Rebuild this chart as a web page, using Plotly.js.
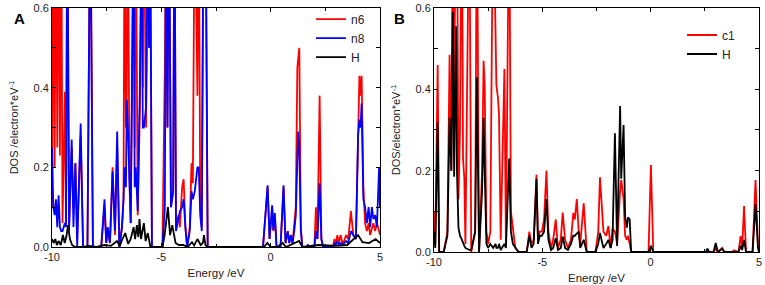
<!DOCTYPE html>
<html>
<head>
<meta charset="utf-8">
<script src="https://cdn.plot.ly/plotly-3.0.1.min.js"></script>
<style>html,body{margin:0;padding:0;background:#fff}#chart{width:765px;height:285px}</style>
</head>
<body>
<div id="chart"></div>
<script>
// ---------- Panel A data (energy in eV, DOS in electron^-1 eV^-1) ----------
const energyA = [
-10.00,-9.94,-9.88,-9.82,-9.76,-9.70,-9.64,-9.58,-9.52,-9.41,
-9.36,-9.30,-9.22,-9.10,-9.02,-8.93,-8.85,-8.69,-8.58,-8.38,
-8.25,-8.13,-7.75,-7.60,-7.52,-7.45,-7.35,-7.23,-7.12,-7.02,
-6.92,-6.80,-6.73,-6.68,-6.62,-6.58,-6.53,-6.46,-6.40,-6.26,
-6.22,-6.17,-6.08,-5.98,-5.89,-5.85,-5.80,-5.70,-5.60,-5.56,
-5.52,-5.43,-4.95,-4.84,-4.78,-4.72,-4.65,-4.56,-4.46,-4.40,
-4.33,-4.22,-4.15,-4.05,-3.98,-3.90,-3.82,-3.70,-3.62,-3.56,
-3.47,-3.35,-3.29,-3.22,-3.15,-3.07,-2.98,-2.88,-0.35,-0.14,
-0.05,0.07,0.12,0.19,0.27,0.45,0.59,0.68,0.78,0.85,
0.92,1.00,1.08,1.15,1.22,1.26,1.31,1.38,1.45,1.65,
1.70,1.75,2.00,2.07,2.14,2.24,2.32,2.40,2.85,2.92,
2.98,3.05,3.12,3.20,3.30,3.45,3.55,3.67,3.78,3.90,
4.00,4.06,4.11,4.16,4.24,4.32,4.40,4.48,4.55,4.63,
4.70,4.78,4.86,4.96,5.00];
const n6 = [
0.10,0.90,0.20,0.90,0.25,0.90,0.23,0.90,0.06,0.39,
0.05,0.90,0.05,0.25,0.10,0.21,0.02,0.28,0.00,0.00,
0.90,0.00,0.00,0.10,0.01,0.04,0.01,0.20,0.03,0.25,
0.00,0.05,0.12,0.90,0.30,0.38,0.90,0.17,0.06,0.90,
0.25,0.90,0.08,0.35,0.90,0.40,0.90,0.30,0.90,0.50,
0.90,0.00,0.00,0.45,0.90,0.30,0.90,0.10,0.14,0.90,
0.05,0.08,0.05,0.15,0.17,0.05,0.00,0.05,0.21,0.16,
0.90,0.38,0.90,0.10,0.05,0.90,0.90,0.00,0.00,0.15,
0.02,0.10,0.04,0.08,0.00,0.00,0.15,0.01,0.04,0.01,
0.03,0.01,0.05,0.10,0.45,0.47,0.50,0.05,0.00,0.00,
0.006,0.00,0.00,0.10,0.02,0.38,0.02,0.00,0.00,0.02,
0.005,0.03,0.01,0.03,0.005,0.03,0.02,0.09,0.03,0.02,
0.30,0.43,0.38,0.43,0.15,0.06,0.04,0.06,0.03,0.05,
0.06,0.04,0.06,0.04,0.03];
const n8 = [
0.25,0.10,0.08,0.12,0.05,0.13,0.05,0.04,0.04,0.06,
0.05,0.90,0.04,0.27,0.05,0.21,0.00,0.31,0.00,0.00,
0.90,0.00,0.00,0.12,0.01,0.05,0.01,0.19,0.04,0.29,
0.00,0.05,0.12,0.20,0.15,0.37,0.30,0.14,0.06,0.90,
0.15,0.20,0.09,0.41,0.90,0.30,0.30,0.35,0.90,0.50,
0.90,0.00,0.00,0.10,0.90,0.30,0.90,0.10,0.14,0.90,
0.04,0.07,0.09,0.10,0.12,0.05,0.00,0.04,0.14,0.12,
0.14,0.20,0.20,0.08,0.04,0.90,0.90,0.00,0.00,0.155,
0.02,0.105,0.043,0.085,0.00,0.00,0.155,0.01,0.04,0.01,
0.03,0.01,0.04,0.08,0.26,0.29,0.25,0.04,0.00,0.00,
0.006,0.00,0.00,0.04,0.02,0.16,0.02,0.00,0.00,0.01,
0.005,0.015,0.005,0.01,0.005,0.015,0.01,0.04,0.03,0.02,
0.28,0.32,0.30,0.36,0.12,0.10,0.06,0.10,0.05,0.10,
0.07,0.08,0.05,0.20,0.10];
const energyHA = [
-10.00,-9.92,-9.85,-9.78,-9.70,-9.60,-9.50,-9.42,-9.33,-9.27,
-9.18,-9.08,-8.95,-8.60,-8.30,-8.00,-7.60,-7.30,-7.03,-6.90,
-6.78,-6.65,-6.52,-6.40,-6.27,-6.20,-6.12,-6.05,-6.00,-5.93,
-5.80,-5.72,-5.62,-5.50,-4.95,-4.85,-4.70,-4.60,-4.50,-4.43,
-4.35,-4.20,-4.00,-3.80,-3.60,-3.50,-3.35,-3.20,-3.10,-3.05,
-2.98,-2.90,-0.30,-0.15,0.00,0.30,0.55,0.70,1.20,1.30,
1.45,2.20,3.00,3.50,4.00,4.20,4.50,4.80,5.00];
const hA = [
0.02,0.01,0.02,0.005,0.015,0.005,0.03,0.01,0.03,0.055,
0.02,0.005,0.00,0.00,0.003,0.00,0.005,0.003,0.015,0.003,
0.02,0.035,0.008,0.02,0.05,0.02,0.055,0.025,0.07,0.02,
0.06,0.015,0.035,0.00,0.00,0.03,0.10,0.03,0.055,0.03,
0.01,0.005,0.005,0.00,0.012,0.004,0.02,0.005,0.01,0.03,
0.005,0.00,0.00,0.01,0.00,0.00,0.01,0.00,0.012,0.015,
0.00,0.005,0.003,0.005,0.03,0.012,0.01,0.02,0.01];

// ---------- Panel B data ----------
const energyB = [
-10.00,-9.94,-9.83,-9.76,-9.55,-9.38,-9.28,-9.20,-9.13,-9.07,
-8.98,-8.94,-8.87,-8.80,-8.71,-8.66,-8.60,-8.55,-8.37,-8.28,
-8.10,-8.02,-7.92,-7.78,-7.71,-7.66,-7.58,-7.50,-7.40,-7.27,
-7.16,-7.12,-7.05,-7.00,-6.92,-6.75,-6.68,-6.53,-6.45,-6.36,
-6.25,-6.10,-5.72,-5.60,-5.50,-5.40,-5.27,-5.20,-5.12,-5.02,
-4.92,-4.81,-4.72,-4.60,-4.50,-4.38,-4.28,-4.15,-4.06,-3.95,
-3.82,-3.68,-3.57,-3.50,-3.41,-3.32,-3.25,-3.09,-2.95,-2.55,
-2.42,-2.34,-2.27,-2.18,-2.05,-1.95,-1.85,-1.76,-1.65,-1.55,
-1.41,-1.36,-1.25,-1.18,-1.10,-1.05,-0.97,-0.90,-0.10,0.01,
0.12,2.55,2.62,2.70,2.90,3.00,3.10,3.30,3.40,3.75,
3.85,4.05,4.15,4.22,4.31,4.40,4.70,4.84,4.95,5.00];
const c1 = [
0.10,0.02,0.46,0.00,0.00,0.05,0.485,0.20,0.90,0.40,
0.90,0.90,0.13,0.30,0.90,0.23,0.18,0.02,0.90,0.00,
0.05,0.90,0.00,0.20,0.47,0.41,0.05,0.02,0.05,0.90,
0.49,0.41,0.38,0.34,0.03,0.45,0.02,0.90,0.10,0.06,
0.01,0.00,0.00,0.05,0.02,0.03,0.19,0.03,0.05,0.05,
0.08,0.20,0.05,0.01,0.03,0.08,0.01,0.03,0.097,0.03,
0.01,0.03,0.096,0.08,0.13,0.05,0.02,0.12,0.00,0.00,
0.05,0.184,0.13,0.05,0.04,0.064,0.01,0.058,0.05,0.02,
0.15,0.177,0.13,0.04,0.03,0.04,0.02,0.00,0.00,0.214,
0.00,0.00,0.00,0.00,0.00,0.008,0.00,0.01,0.00,0.00,
0.004,0.00,0.039,0.01,0.113,0.00,0.00,0.177,0.02,0.00];
const hB = [
0.05,0.01,0.32,0.00,0.00,0.04,0.33,0.20,0.59,0.185,
0.555,0.20,0.06,0.04,0.03,0.02,0.015,0.01,0.005,0.005,
0.05,0.43,0.00,0.15,0.33,0.20,0.02,0.01,0.02,0.01,
0.02,0.01,0.01,0.02,0.005,0.02,0.01,0.23,0.05,0.02,
0.01,0.00,0.00,0.04,0.01,0.02,0.18,0.02,0.04,0.04,
0.05,0.13,0.03,0.005,0.01,0.034,0.005,0.01,0.038,0.01,
0.005,0.02,0.04,0.04,0.045,0.05,0.01,0.03,0.00,0.00,
0.02,0.047,0.03,0.01,0.02,0.03,0.01,0.03,0.292,0.015,
0.359,0.18,0.312,0.087,0.06,0.085,0.08,0.00,0.00,0.015,
0.00,0.00,0.008,0.00,0.00,0.022,0.00,0.008,0.00,0.00,
0.001,0.00,0.015,0.005,0.03,0.00,0.00,0.118,0.01,0.00];

// ---------- tick labels ----------
const xTickVals = [-10, -5, 0, 5];
const xTickText = ['-10', '-5', '0', '5'];
const yTickVals = [0, 0.2, 0.4, 0.6];
const yTickText = ['0.0', '0.2', '0.4', '0.6'];

const FONT = 'Liberation Sans, Arial, sans-serif';
const LW = 1.8;

function tr(x, y, name, color, xa, ya, leg) {
  return {x: x, y: y, name: name, type: 'scatter', mode: 'lines',
    line: {color: color, width: LW}, xaxis: xa, yaxis: ya, legend: leg,
    hoverinfo: 'skip'};
}
const data = [
  tr(energyA, n6, 'n6', '#ff0000', 'x', 'y', 'legend'),
  tr(energyA, n8, 'n8', '#0000ff', 'x', 'y', 'legend'),
  tr(energyHA, hA, 'H', '#000000', 'x', 'y', 'legend'),
  tr(energyB, c1, 'c1', '#ff0000', 'x2', 'y2', 'legend2'),
  tr(energyB, hB, 'H', '#000000', 'x2', 'y2', 'legend2')
];

function xax(domain, anchor) {
  return {domain: domain, anchor: anchor, range: [-10, 5],
    tickmode: 'array', tickvals: xTickVals, ticktext: xTickText,
    ticks: 'inside', ticklen: 4, tickcolor: '#000', tickwidth: 1,
    minor: {tickmode: 'linear', tick0: 0, dtick: 2.5, ticks: 'inside', ticklen: 3, tickcolor: '#000'},
    showline: true, linecolor: '#000', linewidth: 1, mirror: 'ticks',
    showgrid: false, zeroline: false,
    tickfont: {family: FONT, size: 11, color: '#222'},
    title: {text: 'Energy /eV', font: {family: FONT, size: 11.5, color: '#222'}, standoff: 6}};
}
function yax(domain, anchor, title) {
  return {domain: domain, anchor: anchor, range: [0, 0.6],
    tickmode: 'array', tickvals: yTickVals, ticktext: yTickText,
    ticks: 'inside', ticklen: 4, tickcolor: '#000', tickwidth: 1,
    minor: {tickmode: 'linear', tick0: 0, dtick: 0.1, ticks: 'inside', ticklen: 4, tickcolor: '#000'},
    showline: true, linecolor: '#000', linewidth: 1, mirror: 'ticks',
    showgrid: false, zeroline: false,
    tickfont: {family: FONT, size: 11, color: '#222'},
    title: {text: title, font: {family: FONT, size: 11, color: '#222'}, standoff: 12}};
}

const layout = {
  width: 765, height: 285,
  margin: {l: 0, r: 0, t: 0, b: 0},
  paper_bgcolor: '#fff', plot_bgcolor: '#fff',
  font: {family: FONT, color: '#222'},
  xaxis: xax([0.068, 0.4967], 'y'),
  yaxis: yax([0.1333, 0.9719], 'x', 'DOS /electron*eV<sup>-1</sup>'),
  xaxis2: xax([0.5673, 0.9922], 'y2'),
  yaxis2: yax([0.1158, 0.9719], 'x2', 'DOS/electron*eV<sup>-1</sup>'),
  showlegend: true,
  legend: {x: 0.4065, y: 0.984, xanchor: 'left', yanchor: 'top',
    bgcolor: 'rgba(0,0,0,0)', borderwidth: 0, tracegroupgap: 0,
    font: {family: FONT, size: 12, color: '#222'}},
  legend2: {x: 0.8915, y: 0.928, xanchor: 'left', yanchor: 'top',
    bgcolor: 'rgba(0,0,0,0)', borderwidth: 0, tracegroupgap: 0,
    font: {family: FONT, size: 12, color: '#222'}},
  annotations: [
    {text: '<b>A</b>', xref: 'paper', yref: 'paper', x: 19/765, y: 1 - 19/285,
      xanchor: 'center', yanchor: 'middle', showarrow: false,
      font: {family: FONT, size: 15, color: '#000'}},
    {text: '<b>B</b>', xref: 'paper', yref: 'paper', x: 399/765, y: 1 - 19/285,
      xanchor: 'center', yanchor: 'middle', showarrow: false,
      font: {family: FONT, size: 15, color: '#000'}}
  ]
};

Plotly.newPlot('chart', data, layout, {staticPlot: true, displayModeBar: false});
</script>
</body>
</html>
